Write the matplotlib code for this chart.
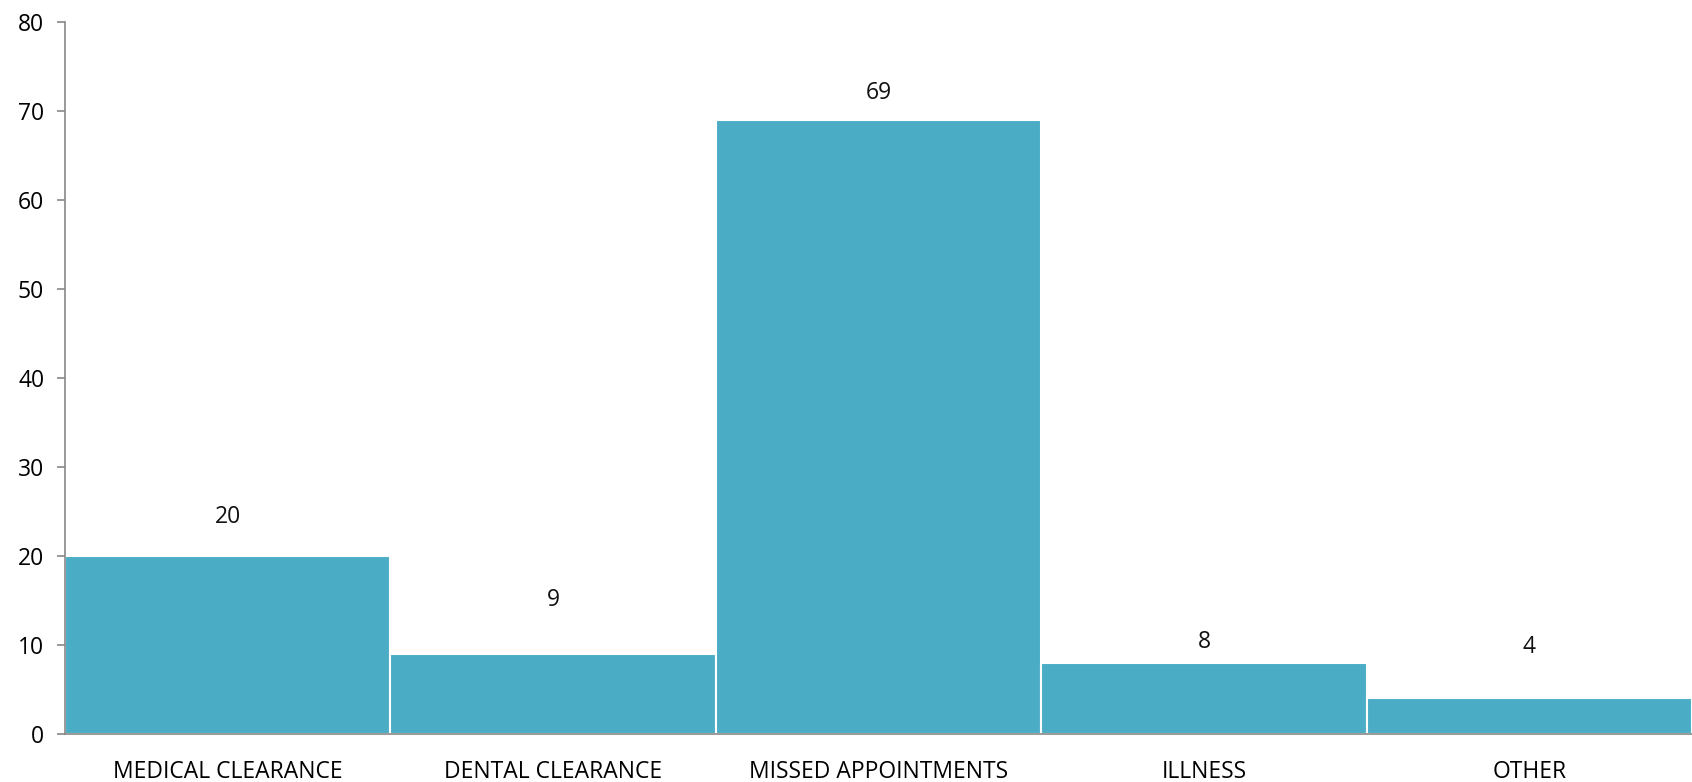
import matplotlib.pyplot as plt

categories = ['MEDICAL CLEARANCE', 'DENTAL CLEARANCE', 'MISSED APPOINTMENTS', 'ILLNESS', 'OTHER']
counts = [20, 9, 69, 8, 4]

plt.rcParams['font.family'] = ['Open Sans', 'DejaVu Sans']

fig = plt.figure(figsize=(16.92, 7.82), dpi=100)
ax = fig.add_axes([0.0384, 0.0614, 0.9616, 0.9105])

x = list(range(len(categories)))
bars = ax.bar(x, counts, width=1.0, color='#4BACC6', edgecolor='white', linewidth=1.5, zorder=2)

# labels sit at uneven heights above the bars in the original
label_lift = [28, 39, 19, 15, 37]
for xi, v, d in zip(x, counts, label_lift):
    ax.annotate(str(v), (xi, v), xytext=(0, d), textcoords='offset points',
                ha='center', va='center', fontsize=16.5, color='#111111')

ax.set_xlim(-0.5, len(categories) - 0.5)
ax.set_ylim(0, 80)
ax.set_yticks(range(0, 81, 10))
ax.set_xticks(x)
ax.set_xticklabels(categories)
ax.tick_params(axis='x', length=0, pad=19, labelsize=16.5)
ax.tick_params(axis='y', length=6, width=1.2, color='#888888', pad=9, labelsize=16.5)

for s in ['top', 'right']:
    ax.spines[s].set_visible(False)
for s in ['left', 'bottom']:
    ax.spines[s].set_color('#888888')
    ax.spines[s].set_linewidth(1.2)

fig.savefig('out.png', dpi=100)
